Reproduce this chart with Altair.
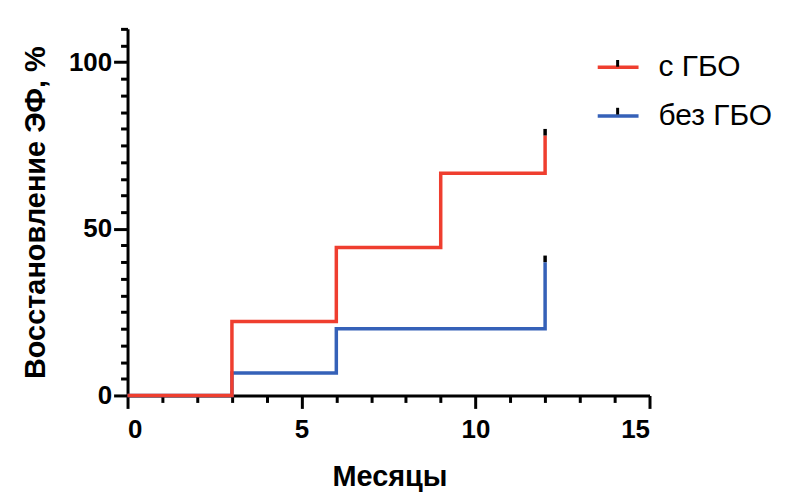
import altair as alt
import pandas as pd

# ---- data ----
groups = ["с ГБО", "без ГБО"]
colors = ["#EF3E2F", "#3561B8"]

red_months = [0, 3, 6, 9, 12]
red_pct = [0, 22.2, 44.4, 66.7, 78]

blue_months = [0, 3, 6, 12]
blue_pct = [0, 6.7, 20, 40]

censor_groups = ["цензур. с ГБО", "цензур. без ГБО"]
censor_months = [12, 12]
censor_pct = [78, 40]

x_ticks = list(range(0, 16))
y_ticks = list(range(0, 111, 5))

FONT = "Liberation Sans"
TICK_PATH = "M0,0V-0.33"

red_df = pd.DataFrame({"t": red_months, "s": red_pct, "g": groups[0]})
blue_df = pd.DataFrame({"t": blue_months, "s": blue_pct, "g": groups[1]})
cens_df = pd.DataFrame({"t": censor_months, "s": censor_pct, "g2": censor_groups})

x_enc = alt.X(
    "t:Q",
    scale=alt.Scale(domain=[0, 15], nice=False, zero=False),
    axis=alt.Axis(
        title="Месяцы",
        values=x_ticks,
        tickCount=len(x_ticks),
        labelExpr="datum.value % 5 === 0 ? datum.label : ''",
        labelOverlap=False,
        tickSize={"condition": {"test": "datum.value % 5 === 0", "value": 13}, "value": 7},
        labelPadding=8,
        titleX=263,
        titleY=90,
        titleBaseline="alphabetic",
        titleAlign="center",
    ),
)
y_enc = alt.Y(
    "s:Q",
    scale=alt.Scale(domain=[0, 110], nice=False),
    axis=alt.Axis(
        title="Восстановление ЭФ, %",
        values=y_ticks,
        tickCount=len(y_ticks),
        labelExpr="datum.value % 50 === 0 ? datum.label : ''",
        labelOverlap=False,
        tickSize={"condition": {"test": "datum.value % 50 === 0", "value": 14}, "value": 7},
        labelPadding=2,
        titleX=-92,
        titleY=184,
        titleBaseline="middle",
        titleAlign="center",
        titleAngle=270,
    ),
)

color_enc = alt.Color(
    "g:N",
    scale=alt.Scale(domain=groups, range=colors),
    legend=alt.Legend(
        title=None,
        orient="none",
        legendX=470,
        legendY=16,
        symbolType="stroke",
        symbolSize=1680,
        symbolStrokeWidth=3.5,
        labelFont=FONT,
        labelFontSize=30,
        labelFontWeight="normal",
        labelColor="black",
        labelOffset=18,
        rowPadding=11,
        padding=0,
    ),
)

blue_line = alt.Chart(blue_df).mark_line(interpolate="step-after", strokeWidth=3.5).encode(
    x=x_enc, y=y_enc, color=color_enc
)
red_line = alt.Chart(red_df).mark_line(interpolate="step-after", strokeWidth=3.5).encode(
    x="t:Q", y="s:Q", color=alt.Color("g:N")
)
ticks = alt.Chart(cens_df).mark_point(
    filled=False, color="black", strokeWidth=3.5, size=1600, opacity=1
).encode(
    x="t:Q",
    y="s:Q",
    shape=alt.Shape(
        "g2:N",
        scale=alt.Scale(domain=censor_groups, range=[TICK_PATH, TICK_PATH]),
        legend=alt.Legend(
            title=None,
            orient="none",
            legendX=470,
            legendY=16,
            symbolSize=1680,
            symbolStrokeColor="black",
            symbolStrokeWidth=3,
            symbolFillColor="transparent",
            labelExpr="''",
            labelFontSize=30,
            labelOffset=18,
            rowPadding=11,
            padding=0,
        ),
    ),
)

chart = (
    alt.layer(blue_line, red_line, ticks)
    .properties(
        width=524,
        height=368,
        autosize=alt.AutoSizeParams(type="none"),
        padding={"left": 120, "top": 20, "right": 130, "bottom": 100},
    )
    .configure_view(stroke=None)
    .configure_axis(
        domainColor="black",
        domainWidth=3,
        tickColor="black",
        tickWidth=3,
        labelFont=FONT,
        labelFontSize=26,
        labelFontWeight="bold",
        labelColor="black",
        titleFont=FONT,
        titleFontSize=29,
        titleFontWeight="bold",
        titleColor="black",
        grid=False,
    )
    .configure_legend(labelFont=FONT)
)

chart.save("out.html", embed_options={"renderer": "svg", "actions": False})
